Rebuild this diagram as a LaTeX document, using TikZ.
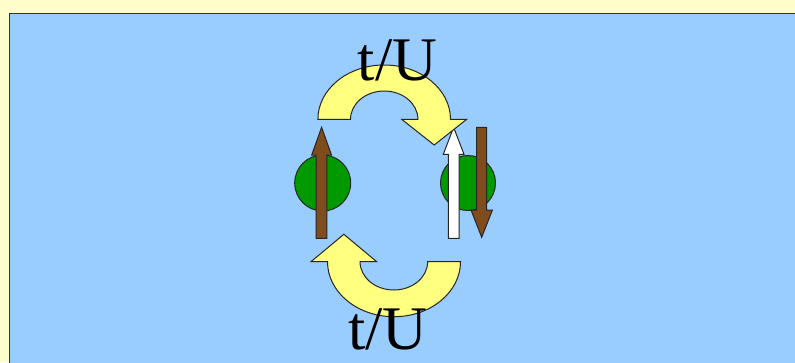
\documentclass[tikz,border=0pt]{standalone}
\usepackage{fontspec}
\setmainfont{Liberation Serif}
\definecolor{pagebg}{HTML}{FFFFCC}
\definecolor{panel}{HTML}{99CCFF}
\definecolor{hop}{HTML}{FFFF80}
\definecolor{spinbrown}{HTML}{7F4C1E}
\definecolor{site}{HTML}{009900}
\tikzset{
  outl/.style={draw=black!85, line width=0.75pt, line join=miter},
  hoparrow/.style={outl, fill=hop},
  spinup/.style={outl, fill=spinbrown},
  spinwhite/.style={outl, fill=white},
  sitecircle/.style={outl, fill=site},
  lbl/.style={inner sep=0pt, anchor=base, font=\fontsize{46.5pt}{50pt}\selectfont}
}
\begin{document}
\begin{tikzpicture}[x=0.75pt,y=0.75pt]
\useasboundingbox (0,0) rectangle (795,362);
\fill[pagebg] (0,0) rectangle (795,362);
\draw[fill=panel, draw=black!80, line width=0.75pt] (9,-5) rectangle (805,349);
% sites
\draw[sitecircle] (322.7,179) circle[radius=28];
\draw[sitecircle] (468,179) circle[radius=27.5];
% spins
\draw[spinup] (316,123.7) -- (316,207) -- (311.7,207) -- (321.6,234.7) -- (331.5,207) -- (326.9,207) -- (326.9,123.7) -- cycle;
\draw[spinwhite] (448.3,123.7) -- (448.3,207.7) -- (443.3,207.7) -- (453.6,234.7) -- (464,207.7) -- (459,207.7) -- (459,123.7) -- cycle;
\draw[spinup] (476.7,234.7) -- (476.7,152) -- (471,152) -- (481.7,124.7) -- (492.4,152) -- (486.7,152) -- (486.7,234.7) -- cycle;
% hopping arrows
\draw[hoparrow] (317.9,242.7) arc[start angle=180, end angle=0, x radius=66.3, y radius=54.3]
  -- (466.7,242.7) -- (434.2,217) -- (401.7,242.7) -- (417.9,242.7)
  arc[start angle=0, end angle=180, x radius=33.7, y radius=28.3] -- cycle;
\draw[hoparrow] (460.5,100.3) arc[start angle=0, end angle=-180, x radius=66.5, y radius=55]
  -- (311,100.3) -- (343.85,127.7) -- (376.7,100.3) -- (360.05,100.3)
  arc[start angle=180, end angle=360, x radius=33.8, y radius=28.3] -- cycle;
% labels
\node[lbl] (ttop) at (397.5,282) {t/U};
\node[lbl] (tbot) at (388,12.7) {t/U};
\end{tikzpicture}
\end{document}
